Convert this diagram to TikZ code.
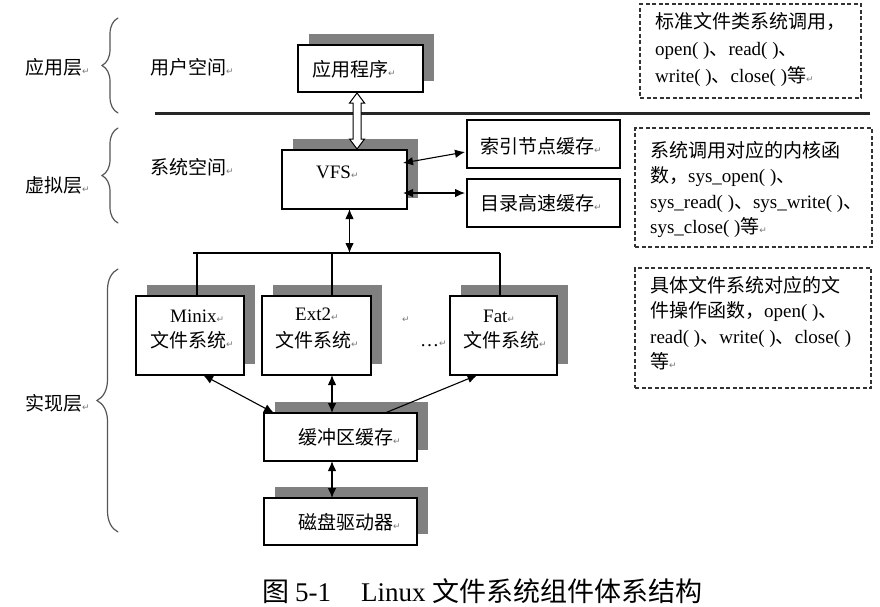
\documentclass[tikz,border=0pt]{standalone}
\usepackage{fontspec}
\setmainfont{Liberation Serif}
\newfontfamily\cjk{Noto Sans CJK SC}
\newfontfamily\dvs{DejaVu Sans}
\usetikzlibrary{calc,decorations.pathreplacing,arrows.meta}
\definecolor{shgray}{RGB}{128,128,128}
\definecolor{rtgray}{RGB}{120,120,120}
\definecolor{bracegray}{RGB}{85,85,85}
\newcommand\rt{{\dvs\fontsize{9}{9}\selectfont\textcolor{rtgray}{↵}}}
\newcommand\zh[1]{{\cjk #1}}
\newcommand\rbox[6][box]{\node[#1, minimum width={#5-#3}, minimum height={#6-#4}] (#2) at ({(#3+#5)/2},{(#4+#6)/2}) {};}
\newcommand\shbox[5]{%
  \fill[shgray] ({#2+11},{#3-11}) rectangle ({#4+11},{#5-11});
  \rbox{#1}{#2}{#3}{#4}{#5}}
\tikzset{
  box/.style={draw, line width=1.1pt, fill=white, inner sep=0pt, outer sep=0pt},
  notebox/.style={draw=black!80, line width=1.1pt, dash pattern=on 4pt off 2.5pt, inner sep=0pt, outer sep=0pt},
  txt/.style={inner sep=0pt, anchor=west, font=\fontsize{19}{25.5}\selectfont},
  notetxt/.style={inner sep=0pt, anchor=north west, align=left, font=\fontsize{19}{25.5}\selectfont},
  arr/.style={line width=1.1pt, {Latex[length=10pt,width=8.5pt]}-{Latex[length=10pt,width=8.5pt]}},
  arrone/.style={line width=1.1pt, -{Latex[length=10pt,width=8.5pt]}},
  bracestyle/.style={draw=bracegray, line width=1.2pt, line cap=round, decorate},
}
\begin{document}
\begin{tikzpicture}[x=1pt,y=-1pt]
\useasboundingbox[fill=white] (0,0) rectangle (880,606);

% layer braces and labels
\coordinate (b1t) at (118,18);  \coordinate (b1b) at (118,113);
\coordinate (b2t) at (118,128); \coordinate (b2b) at (118,223);
\coordinate (b3t) at (118,269); \coordinate (b3b) at (118,532);
\draw[bracestyle, decoration={brace, amplitude=16pt}] (b1b) -- (b1t);
\draw[bracestyle, decoration={brace, amplitude=16pt}] (b2b) -- (b2t);
\draw[bracestyle, decoration={brace, amplitude=21pt}] (b3b) -- (b3t);
\node[txt] (lapp) at (25,67) {\zh{应用层}\rt};
\node[txt] (lvir) at (25,185) {\zh{虚拟层}\rt};
\node[txt] (limp) at (25,403) {\zh{实现层}\rt};
\node[txt] (suser) at (150,67) {\zh{用户空间}\rt};
\node[txt] (ssys) at (150,167) {\zh{系统空间}\rt};

% separator
\coordinate (sepL) at (155,113); \coordinate (sepR) at (870,113);
\draw[line width=3pt, black!85] (sepL) -- (sepR);

% boxes
\shbox{app}{298}{45}{423}{92}
\shbox{vfs}{282}{150}{407}{209}
\rbox{inode}{467}{120}{620}{168}
\rbox{dir}{467}{179}{620}{227}
\shbox{minix}{136}{296}{244}{375}
\shbox{ext2}{262}{296}{371}{375}
\shbox{fat}{450}{296}{557}{375}
\shbox{buf}{264}{413}{417}{461}
\shbox{disk}{264}{498}{417}{545}

% box texts
\node[txt] (tapp) at (312,69) {\zh{应用程序}\rt};
\node[txt] (tvfs) at (316,172) {VFS\rt};
\node[txt] (tinode) at (480,146) {\zh{索引节点缓存}\rt};
\node[txt] (tdir) at (480,203) {\zh{目录高速缓存}\rt};
\node[txt] (tminix1) at (170,316) {Minix\rt};
\node[txt] (tminix2) at (150,340) {\zh{文件系统}\rt};
\node[txt] (text1) at (295,314) {Ext2\rt};
\node[txt] (text2) at (275,340) {\zh{文件系统}\rt};
\node[txt] (tfat1) at (483,316) {Fat\rt};
\node[txt] (tfat2) at (463,340) {\zh{文件系统}\rt};
\node[txt] (tdots) at (420,344) {…\rt};
\node[txt] (tlone) at (402,320) {\rt};
\node[txt] (tbuf) at (298,437) {\zh{缓冲区缓存}\rt};
\node[txt] (tdisk) at (298,522) {\zh{磁盘驱动器}\rt};

% hollow double arrow between app and vfs
\coordinate (ha) at ($(app.south)+(-3.5,1)$);
\coordinate (hb) at ($(vfs.north -| ha)+(0,-1)$);
\draw[line width=1pt, fill=white] let \p1=(ha), \p2=(hb) in
  (\x1,\y1) -- (\x1+7.5pt,\y1-10pt) -- (\x1+4pt,\y1-10pt) -- (\x1+4pt,\y2+10pt)
  -- (\x1+7.5pt,\y2+10pt) -- (\x1,\y2) -- (\x1-7.5pt,\y2+10pt) -- (\x1-4pt,\y2+10pt)
  -- (\x1-4pt,\y1-10pt) -- (\x1-7.5pt,\y1-10pt) -- cycle;

% vfs to caches
\draw[arr] ($(vfs.north east)+(-4,13)$) -- ($(inode.south west)+(-2,-16)$);
\draw[arr] ($(vfs.south east)+(-4,-16)$) -- ($(dir.north west)+(-2,14)$);

% bus
\coordinate (busL) at (193,253); \coordinate (busR) at (500,253);
\coordinate (busV) at (349.5,253);
\draw[line width=1.2pt] (busL) -- (busR);
\draw[arr] ($(vfs.south)+(5,0)$) -- (busV);
\coordinate (bm) at (197,253); \coordinate (be) at (332,253); \coordinate (bf) at (500,253);
\draw[line width=1.1pt] (bm) -- (bm |- minix.north);
\draw[line width=1.1pt] (be) -- (be |- ext2.north);
\draw[line width=1.1pt] (bf) -- (bf |- fat.north);

% fs to buffer cache
\draw[arr] ($(minix.south)+(13,0)$) -- ($(buf.north west)+(10,0)$);
\draw[arr] ($(ext2.south)+(15.5,0)$) -- ($(buf.north)+(-8.5,0)$);
\draw[arrone] ($(buf.north)+(44.5,0)$) -- ($(fat.south)+(-26,0)$);
\draw[arr] ($(buf.south)+(-8.5,0)$) -- ($(disk.north)+(-8.5,0)$);

% note boxes
\rbox[notebox]{n1}{640}{4}{861}{98}
\rbox[notebox]{n2}{635}{128}{872}{247}
\rbox[notebox]{n3}{635}{268}{871}{388}
\node[notetxt, font=\fontsize{19}{27}\selectfont] (n1t) at (655,12) {\zh{标准文件类系统调用，}\\open( )\zh{、}read( )\zh{、}\\write( )\zh{、}close( )\zh{等}\rt};
\node[notetxt] (n2t) at (650,141) {\zh{系统调用对应的内核函}\\\zh{数，}sys\_open( )\zh{、}\\sys\_read( )\zh{、}sys\_write( )\zh{、}\\sys\_close( )\zh{等}\rt};
\node[notetxt] (n3t) at (650,276) {\zh{具体文件系统对应的文}\\\zh{件操作函数，}open( )\zh{、}\\read( )\zh{、}write( )\zh{、}close( )\\\zh{等}\rt};

% caption
\node[inner sep=0pt, anchor=west, font=\fontsize{27}{30}\selectfont] (cap) at (262,591) {\zh{图}\hspace{6pt}5-1\hspace{30pt}Linux \zh{文件系统组件体系结构}};
\end{tikzpicture}
\end{document}
